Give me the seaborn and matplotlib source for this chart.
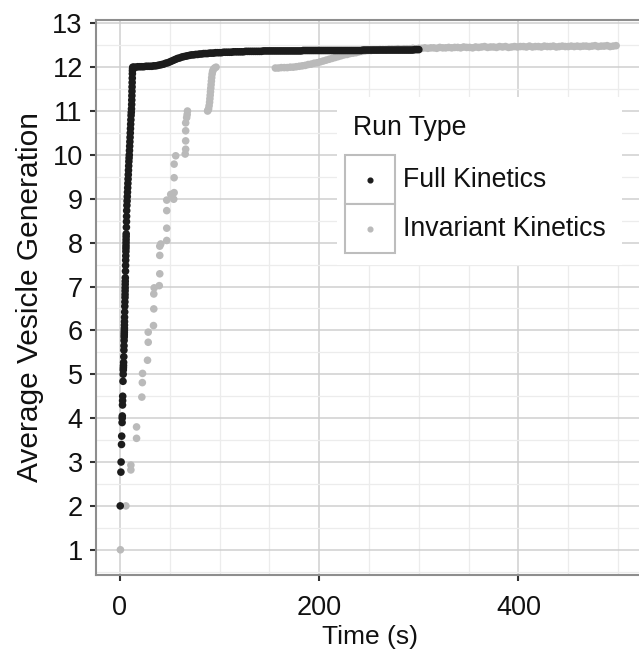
import matplotlib
matplotlib.use("Agg")
import matplotlib.pyplot as plt
from matplotlib.patches import Rectangle
from matplotlib.lines import Line2D
from matplotlib.ticker import MultipleLocator
import pandas as pd
import seaborn as sns

# ---- Full Kinetics: steep rise, then the slow plateau ----
full_rise_time = [0.3, 1.0, 1.2, 1.6, 1.8, 2.2, 2.3, 2.4, 2.6, 2.7, 2.8,
                  3.1, 3.3, 3.4, 3.5, 3.6, 3.7, 3.9, 4.0, 4.1,
                  4.2, 4.3, 4.35, 4.4, 4.45, 4.5, 4.55, 4.6, 4.65,
                  4.8, 4.9, 5.0, 5.1, 5.15, 5.2, 5.25, 5.3, 5.35, 5.4,
                  5.6, 5.7, 5.8, 5.9, 6.0, 6.05, 6.1, 6.15, 6.2, 6.25, 6.3,
                  6.5, 6.6, 6.7, 6.8,
                  7.0, 7.2, 7.4, 7.6, 7.8, 8.0, 8.2, 8.4, 8.6, 8.8,
                  9.0, 9.2, 9.4, 9.6, 9.8, 10.0, 10.2, 10.4, 10.6, 10.8,
                  11.0, 11.2, 11.4, 11.6, 11.8,
                  11.9, 12.0, 12.1, 12.2, 12.3, 12.4, 12.5, 12.6, 12.7, 12.9]
full_rise_gen = [2.0, 2.77, 3.0, 3.4, 3.59, 3.9, 4.0, 4.05, 4.3, 4.4, 4.5,
                 4.84, 5.0, 5.1, 5.15, 5.2, 5.27, 5.4, 5.55, 5.65,
                 5.77, 5.85, 5.9, 5.95, 6.0, 6.05, 6.12, 6.2, 6.3,
                 6.42, 6.55, 6.65, 6.75, 6.82, 6.9, 6.97, 7.05, 7.12, 7.2,
                 7.35, 7.48, 7.6, 7.7, 7.8, 7.87, 7.93, 8.0, 8.07, 8.14, 8.2,
                 8.35, 8.48, 8.6, 8.73,
                 8.85, 8.95, 9.05, 9.15, 9.25, 9.35, 9.45, 9.55, 9.65, 9.75,
                 9.85, 9.93, 10.0, 10.1, 10.2, 10.3, 10.4, 10.5, 10.6, 10.7,
                 10.8, 10.9, 10.97, 11.05, 11.15,
                 11.25, 11.35, 11.45, 11.55, 11.65, 11.75, 11.85, 11.92, 11.97, 12.0]

full_late_time = [14, 16, 18, 20, 22, 24, 26, 28, 30, 32,
                  34, 36, 38, 40, 42, 44, 46, 48, 50, 52,
                  54, 56, 58, 60, 62, 64, 66, 68, 70, 72,
                  74, 76, 78, 80, 82, 84, 86, 88, 90, 92,
                  94, 96, 98, 100, 102, 104, 106, 108, 110, 112,
                  114, 116, 118, 120, 122, 124, 126, 128, 130, 132,
                  134, 136, 138, 140, 142, 144, 146, 148, 150, 152,
                  154, 156, 158, 160, 162, 164, 166, 168, 170, 172,
                  174, 176, 178, 180, 182, 184, 186, 188, 190, 192,
                  194, 196, 198, 200, 202, 204, 206, 208, 210, 212,
                  214, 216, 218, 220, 222, 224, 226, 228, 230, 232,
                  234, 236, 238, 240, 242, 244, 246, 248, 250, 252,
                  254, 256, 258, 260, 262, 264, 266, 268, 270, 272,
                  274, 276, 278, 280, 282, 284, 286, 288, 290, 292,
                  294, 296, 298, 300]
full_late_gen = [12.00, 12.00, 12.01, 12.01, 12.01, 12.01, 12.02, 12.02, 12.02, 12.02,
                 12.03, 12.03, 12.04, 12.05, 12.06, 12.07, 12.09, 12.10, 12.12, 12.14,
                 12.16, 12.18, 12.20, 12.21, 12.23, 12.24, 12.25, 12.26, 12.27, 12.28,
                 12.28, 12.29, 12.29, 12.30, 12.30, 12.31, 12.31, 12.31, 12.32, 12.32,
                 12.32, 12.33, 12.33, 12.33, 12.33, 12.34, 12.34, 12.34, 12.34, 12.34,
                 12.35, 12.35, 12.35, 12.35, 12.35, 12.35, 12.36, 12.36, 12.36, 12.36,
                 12.36, 12.36, 12.36, 12.36, 12.36, 12.37, 12.37, 12.37, 12.37, 12.37,
                 12.37, 12.37, 12.37, 12.37, 12.37, 12.37, 12.37, 12.37, 12.37, 12.37,
                 12.37, 12.37, 12.37, 12.37, 12.37, 12.38, 12.38, 12.38, 12.38, 12.38,
                 12.38, 12.38, 12.38, 12.38, 12.38, 12.38, 12.38, 12.38, 12.38, 12.38,
                 12.38, 12.38, 12.38, 12.38, 12.38, 12.38, 12.38, 12.38, 12.38, 12.38,
                 12.38, 12.38, 12.38, 12.38, 12.38, 12.39, 12.39, 12.39, 12.39, 12.39,
                 12.39, 12.39, 12.39, 12.39, 12.39, 12.39, 12.39, 12.39, 12.39, 12.39,
                 12.39, 12.39, 12.39, 12.39, 12.39, 12.39, 12.39, 12.39, 12.39, 12.39,
                 12.39, 12.40, 12.40, 12.40]

# ---- Invariant Kinetics: stepwise rise, jump near 90 s, late plateau ----
inv_early_time = [0.5, 6, 11, 11, 16.7, 16.7, 22, 22.5, 22.7, 27.7, 28.4, 28.4,
                  33.7, 34, 34, 34.4, 39.5, 40, 40, 40, 41, 47, 47, 47, 47,
                  51, 54, 54.4, 54.4, 54.4, 56, 65.5, 66, 66, 66, 66, 67, 67.5, 67.8]
inv_early_gen = [1.0, 2.0, 2.82, 2.93, 3.54, 3.80, 4.48, 4.81, 5.02, 5.32, 5.73, 5.96,
                 6.11, 6.49, 6.83, 6.97, 7.02, 7.29, 7.71, 7.92, 7.97, 8.05, 8.33, 8.73, 8.97,
                 9.10, 8.99, 9.14, 9.48, 9.79, 9.98, 10.02, 10.13, 10.32, 10.55, 10.73, 10.85,
                 10.92, 11.0]

inv_jump_time = [88.0, 88.5, 89.0, 89.5, 90.0, 90.3, 90.6, 90.9, 91.2, 91.5,
                 91.8, 92.1, 92.5, 93.0, 93.8, 95.0, 96.5]
inv_jump_gen = [11.00, 11.02, 11.05, 11.12, 11.20, 11.28, 11.36, 11.44, 11.52, 11.60,
                11.68, 11.76, 11.84, 11.90, 11.95, 11.98, 12.00]

inv_late_time = [156, 159, 162, 165, 168, 171, 174, 177, 180, 183,
                 186, 189, 192, 195, 198, 201, 204, 207, 210, 213,
                 216, 219, 222, 225, 228, 231, 234, 237, 240, 243,
                 246, 249, 252, 255, 258, 261, 264, 267, 270, 273,
                 276, 279, 282, 285, 288, 291, 294, 297, 300, 303,
                 306, 309, 312, 315, 318, 321, 324, 327, 330, 333,
                 336, 339, 342, 345, 348, 351, 354, 357, 360, 363,
                 366, 369, 372, 375, 378, 381, 384, 387, 390, 393,
                 396, 399, 402, 405, 408, 411, 414, 417, 420, 423,
                 426, 429, 432, 435, 438, 441, 444, 447, 450, 453,
                 456, 459, 462, 465, 468, 471, 474, 477, 480, 483,
                 486, 489, 492, 495, 498]
inv_late_gen = [11.98, 11.98, 11.99, 11.99, 11.99, 12.00, 12.00, 12.01, 12.02, 12.03,
                12.04, 12.06, 12.07, 12.09, 12.10, 12.12, 12.14, 12.16, 12.18, 12.20,
                12.22, 12.24, 12.26, 12.28, 12.29, 12.31, 12.32, 12.33, 12.35, 12.36,
                12.37, 12.38, 12.38, 12.39, 12.39, 12.40, 12.40, 12.40, 12.41, 12.41,
                12.41, 12.42, 12.41, 12.42, 12.42, 12.42, 12.43, 12.42, 12.43, 12.43,
                12.44, 12.43, 12.44, 12.44, 12.43, 12.45, 12.44, 12.44, 12.45, 12.44,
                12.45, 12.45, 12.44, 12.46, 12.45, 12.45, 12.44, 12.46, 12.45, 12.46,
                12.47, 12.45, 12.46, 12.46, 12.45, 12.47, 12.46, 12.47, 12.45, 12.46,
                12.47, 12.46, 12.47, 12.47, 12.46, 12.48, 12.46, 12.47, 12.47, 12.46,
                12.48, 12.47, 12.47, 12.48, 12.46, 12.47, 12.48, 12.47, 12.47, 12.48,
                12.47, 12.48, 12.47, 12.48, 12.48, 12.47, 12.48, 12.49, 12.47, 12.48,
                12.48, 12.49, 12.47, 12.48, 12.49]

run_types = ["Full Kinetics", "Invariant Kinetics"]
run_colors = ["#1c1c1c", "#bababa"]
x_ticks = [0, 200, 400]
y_ticks = list(range(1, 14))

inv_time = inv_early_time + inv_jump_time + inv_late_time
inv_gen = inv_early_gen + inv_jump_gen + inv_late_gen
full_time = full_rise_time + full_late_time
full_gen = full_rise_gen + full_late_gen

# invariant rows first so the full-kinetics points sit on top
df = pd.DataFrame({
    "Time": inv_time + full_time,
    "Generation": inv_gen + full_gen,
    "Run Type": [run_types[1]] * len(inv_time) + [run_types[0]] * len(full_time),
})

sns.set_theme(style="white")
plt.rcParams["font.family"] = ["Liberation Sans", "DejaVu Sans"]

W, H = 639, 651
fig = plt.figure(figsize=(W / 100, H / 100), dpi=100)
ax = fig.add_axes([96 / W, 1 - 575 / H, (644 - 96) / W, (575 - 20) / H])

sns.scatterplot(data=df, x="Time", y="Generation", hue="Run Type",
                palette=dict(zip(run_types, run_colors)), s=30, linewidth=0,
                legend=False, ax=ax, zorder=3)

ax.set_xlim(-24, 526)
ax.set_ylim(0.425, 13.075)
ax.set_xticks(x_ticks)
ax.set_yticks(y_ticks)
ax.xaxis.set_minor_locator(MultipleLocator(50))
ax.yaxis.set_minor_locator(MultipleLocator(0.5))
ax.set_axisbelow(True)
ax.grid(which="major", color="#cfcfcf", linewidth=1.1)
ax.grid(which="minor", color="#ececec", linewidth=0.9)

for side in ["left", "bottom", "top", "right"]:
    ax.spines[side].set_color("#8e8e8e")
    ax.spines[side].set_linewidth(1.5)
ax.tick_params(which="major", direction="out", length=4.5, width=1.5,
               color="#333333", labelsize=19.5, labelcolor="#111111",
               left=True, bottom=True)
ax.tick_params(axis="y", which="major", pad=5)
ax.tick_params(axis="x", which="major", pad=10)
ax.tick_params(which="minor", length=0)

ax.set_xlabel("Time (s)", fontsize=19, color="#111111", labelpad=3)
ax.set_ylabel("Average Vesicle Generation", fontsize=21.5, color="#111111", labelpad=6)


def fx(px):
    return px / W


def fy(py):
    return 1 - py / H


# legend panel
fig.add_artist(Rectangle((fx(337), fy(265)), fx(622) - fx(337), fy(97) - fy(265),
                         transform=fig.transFigure, facecolor="white",
                         edgecolor="none", zorder=5))
fig.text(fx(353), fy(135), "Run Type", fontsize=19.2, color="#111111",
         ha="left", va="baseline", zorder=6)
for i, (name, col) in enumerate(zip(run_types, run_colors)):
    top = 155 + i * 49
    fig.add_artist(Rectangle((fx(345), fy(top + 49)), fx(395) - fx(345), fy(top) - fy(top + 49),
                             transform=fig.transFigure, facecolor="white",
                             edgecolor="#bdbdbd", linewidth=1.5, zorder=6))
    fig.add_artist(Line2D([fx(370)], [fy(top + 25)], transform=fig.transFigure,
                          marker="o", markersize=3.4, color=col, linestyle="none", zorder=7))
    fig.text(fx(403), fy(top + 32), name, fontsize=19.2, color="#111111",
             ha="left", va="baseline", zorder=7)

fig.savefig("out.png", dpi=100)
